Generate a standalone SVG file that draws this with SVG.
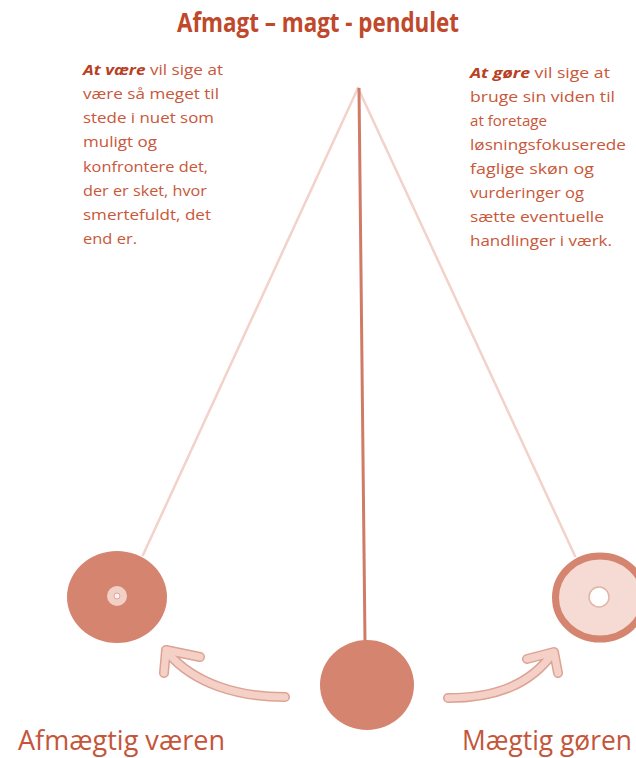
<svg xmlns="http://www.w3.org/2000/svg" width="636" height="758" viewBox="0 0 636 758">
<style>
.title{font-family:"Open Sans","Liberation Sans",sans-serif;font-weight:bold;font-size:26px;fill:#c0482b}
.body{font-family:"Open Sans","Liberation Sans",sans-serif;font-size:15px;fill:#c9573a}
.body .em{font-weight:bold;font-style:italic;fill:#b8401f}
.label{font-family:"Open Sans","Liberation Sans",sans-serif;font-size:27px;fill:#c4553a}
.string{stroke:#f2d2ca;stroke-width:2.5;fill:none;stroke-linecap:round}
.arrowOut{stroke:#dca394;stroke-width:10;fill:none;stroke-linecap:round;stroke-linejoin:round}
.arrowIn{stroke:#f4d0c7;stroke-width:7;fill:none;stroke-linecap:round;stroke-linejoin:round}
</style>
<rect width="636" height="758" fill="#ffffff"/>
<text class="title" x="177" y="32" textLength="282" lengthAdjust="spacingAndGlyphs">Afmagt – magt - pendulet</text>

<g id="connectors">
<line class="string" x1="358" y1="88" x2="143" y2="555"/>
<line class="string" x1="358" y1="88" x2="575" y2="556"/>
<line x1="359" y1="88" x2="365" y2="642" stroke="#d07b66" stroke-width="3"/>
<g id="arrow-left">
<path class="arrowOut" d="M285 697 C240 697 195 685 167 652 M200 657 L166 650 L164 673"/>
<path class="arrowIn" d="M285 697 C240 697 195 685 167 652 M200 657 L166 650 L164 673"/>
</g>
<g id="arrow-right">
<path class="arrowOut" d="M448 698 C495 698 530 685 553 653 M527 659 L554 652 L558 673"/>
<path class="arrowIn" d="M448 698 C495 698 530 685 553 653 M527 659 L554 652 L558 673"/>
</g>
</g>

<g id="ball-left">
<ellipse cx="117" cy="597" rx="50" ry="46" fill="#d5846f"/>
<circle cx="117" cy="596" r="10" fill="#f3d0c6"/>
<circle cx="117" cy="596" r="3" fill="#fdf3f0" stroke="#dea597" stroke-width="1"/>
</g>
<g id="ball-center">
<ellipse cx="367" cy="685" rx="47" ry="45" fill="#d5846f"/>
</g>
<g id="ball-right">
<ellipse cx="600" cy="597.5" rx="44.5" ry="41.5" fill="#f5dbd3" stroke="#d5846f" stroke-width="7"/>
<circle cx="599" cy="597" r="10" fill="#ffffff" stroke="#e2b3a6" stroke-width="1.5"/>
</g>

<g id="text-left" class="body">
<text x="83" y="75" textLength="140" lengthAdjust="spacingAndGlyphs"><tspan class="em">At være</tspan> vil sige at</text>
<text x="83" y="99" textLength="136" lengthAdjust="spacingAndGlyphs">være så meget til</text>
<text x="83" y="123" textLength="131" lengthAdjust="spacingAndGlyphs">stede i nuet som</text>
<text x="83" y="147" textLength="74" lengthAdjust="spacingAndGlyphs">muligt og</text>
<text x="83" y="172" textLength="125" lengthAdjust="spacingAndGlyphs">konfrontere det,</text>
<text x="83" y="196" textLength="124" lengthAdjust="spacingAndGlyphs">der er sket, hvor</text>
<text x="83" y="220" textLength="128" lengthAdjust="spacingAndGlyphs">smertefuldt, det</text>
<text x="83" y="244" textLength="54" lengthAdjust="spacingAndGlyphs">end er.</text>
</g>

<g id="text-right" class="body">
<text x="470" y="78" textLength="140" lengthAdjust="spacingAndGlyphs"><tspan class="em">At gøre</tspan> vil sige at</text>
<text x="470" y="102" textLength="145" lengthAdjust="spacingAndGlyphs">bruge sin viden til</text>
<text x="470" y="126" textLength="77" lengthAdjust="spacingAndGlyphs">at foretage</text>
<text x="470" y="150" textLength="156" lengthAdjust="spacingAndGlyphs">løsningsfokuserede</text>
<text x="470" y="174" textLength="124" lengthAdjust="spacingAndGlyphs">faglige skøn og</text>
<text x="470" y="198" textLength="114" lengthAdjust="spacingAndGlyphs">vurderinger og</text>
<text x="470" y="222" textLength="134" lengthAdjust="spacingAndGlyphs">sætte eventuelle</text>
<text x="470" y="246" textLength="142" lengthAdjust="spacingAndGlyphs">handlinger i værk.</text>
</g>

<g id="label-left">
<text class="label" x="18" y="750" textLength="207" lengthAdjust="spacingAndGlyphs">Afmægtig væren</text>
</g>
<g id="label-right">
<text class="label" x="462" y="750" textLength="170" lengthAdjust="spacingAndGlyphs">Mægtig gøren</text>
</g>
</svg>
